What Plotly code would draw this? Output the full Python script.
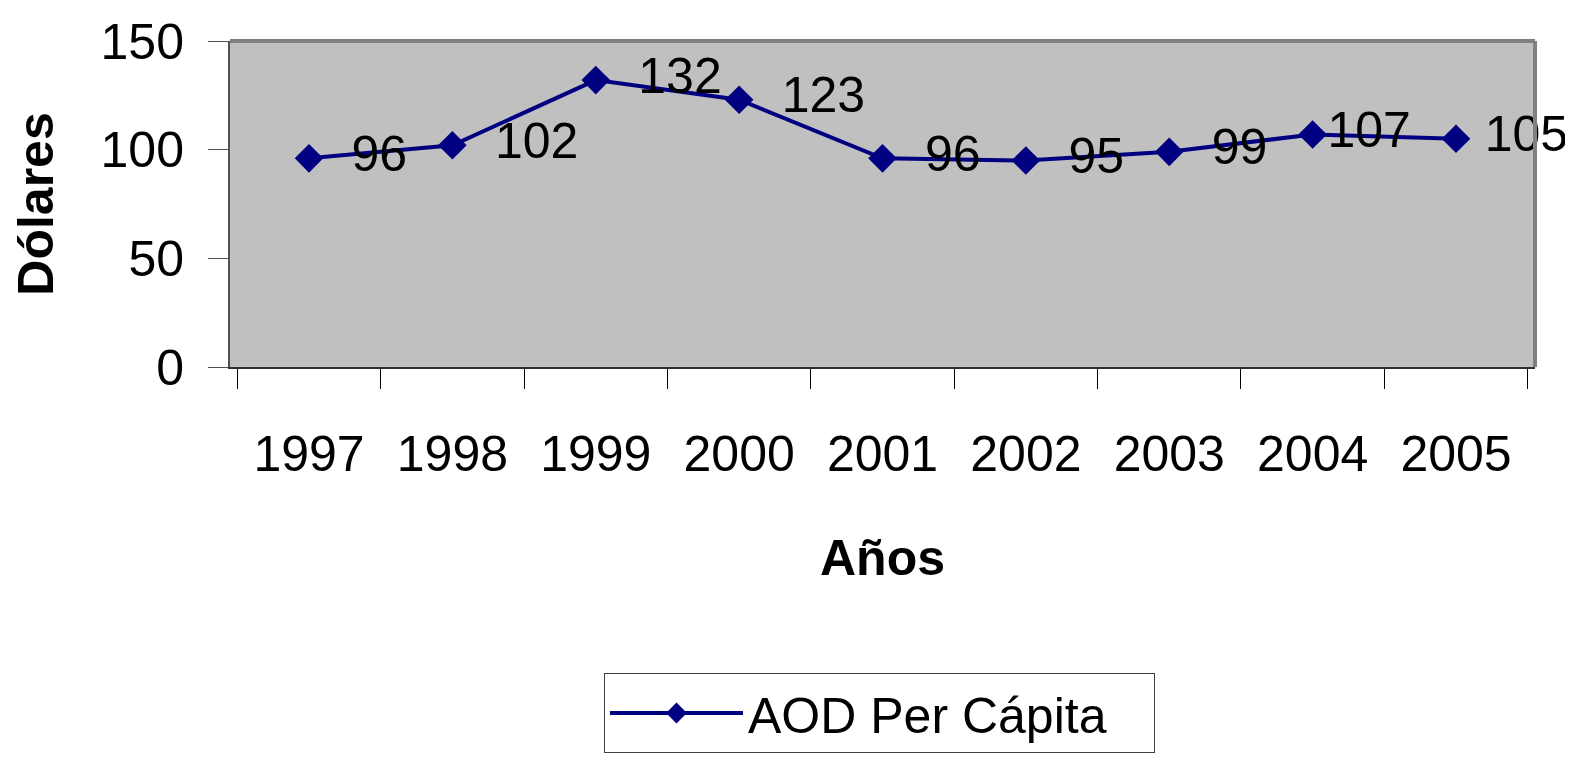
import plotly.graph_objects as go

years = ["1997", "1998", "1999", "2000", "2001", "2002", "2003", "2004", "2005"]
aod_per_capita = [96, 102, 132, 123, 96, 95, 99, 107, 105]
y_ticks = [0, 50, 100, 150]

# leading padding of each data label (style only)
label_pad = ["  ", "  ", "  ", "  ", "  ", "  ", "  ", "", " "]

FONT = "Liberation Sans, Arial, sans-serif"
NAVY = "#000080"

fig = go.Figure()
fig.add_trace(go.Scatter(
    x=years, y=aod_per_capita,
    mode="lines+markers+text",
    name="AOD Per Cápita" + "\u00a0" * 3,
    line=dict(color=NAVY, width=4),
    marker=dict(symbol="diamond", size=22, color=NAVY),
    text=[p + str(v) for p, v in zip(label_pad, aod_per_capita)],
    textposition="middle right",
    textfont=dict(family=FONT, size=50, color="black"),
    cliponaxis=False,
))

# page body has an 8px margin, so the figure is offset by 8px
fig.update_layout(
    width=1573, height=775,
    margin=dict(l=222, r=46, t=33, b=416, autoexpand=False),
    paper_bgcolor="white",
    plot_bgcolor="#C0C0C0",
    font=dict(family=FONT, size=50, color="black"),
    showlegend=True,
    legend=dict(
        x=(604 - 230) / 1305, y=(367 - 673) / 326,
        xanchor="left", yanchor="top",
        bordercolor="#404040", borderwidth=1,
        bgcolor="white",
        font=dict(family=FONT, size=50, color="black"),
        itemwidth=133,
    ),
    xaxis=dict(
        type="category",
        tickson="boundaries",
        ticks="outside", ticklen=20, tickcolor="black", tickwidth=1,
        showline=True, linecolor="#303030", linewidth=2,
        showgrid=False,
        tickfont=dict(family=FONT, size=50, color="black"),
        ticklabelstandoff=42,
        tickangle=0,
        automargin=False,
        title=dict(text="<b>Años</b>", font=dict(family=FONT, size=50, color="black"), standoff=59),
    ),
    yaxis=dict(
        range=[0, 150],
        tickvals=y_ticks,
        ticks="outside", ticklen=20, tickcolor="#505050", tickwidth=1,
        showline=True, linecolor="#505050", linewidth=2,
        showgrid=False, zeroline=False,
        tickfont=dict(family=FONT, size=50, color="black"),
        ticklabelstandoff=14,
        automargin=False,
        title=dict(text="<b>Dólares</b>", font=dict(family=FONT, size=50, color="black"), standoff=40),
    ),
    shapes=[
        dict(type="line", xref="paper", yref="paper", x0=0, x1=1, y0=1, y1=1,
             line=dict(color="#808080", width=4)),
        dict(type="line", xref="paper", yref="paper", x0=1, x1=1, y0=0, y1=1,
             line=dict(color="#808080", width=4)),
    ],
)

fig.write_html("out.html")
